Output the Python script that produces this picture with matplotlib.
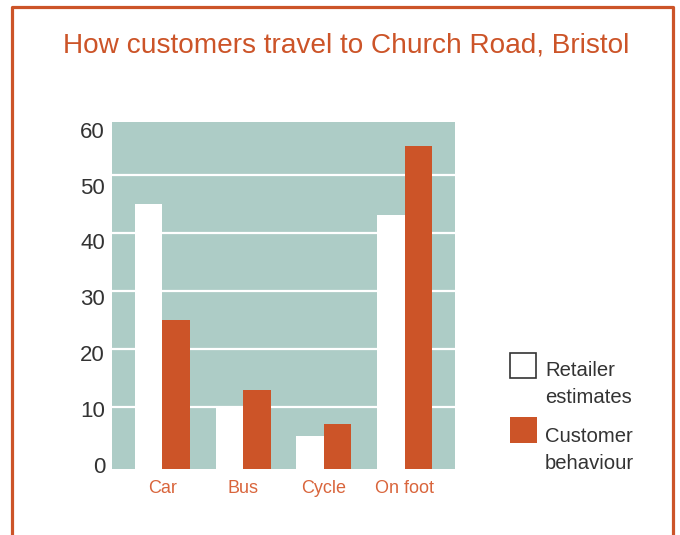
import numpy as np
import matplotlib
matplotlib.use("Agg")
import matplotlib.pyplot as plt
from matplotlib.patches import Rectangle
from matplotlib.lines import Line2D

plt.rcParams['font.family'] = ['Liberation Sans', 'DejaVu Sans']

# data
modes = ["Car", "Bus", "Cycle", "On foot"]
retailer = [45, 10, 5, 43]
customer = [25, 13, 7, 55]
y_ticks = [0, 10, 20, 30, 40, 50, 60]

ORANGE = "#cc5428"
LABEL_ORANGE = "#d9653c"
TEAL = "#adccc6"
GREY = "#333333"

W, H = 680, 535
fig = plt.figure(figsize=(W / 100, H / 100), dpi=100)

def fx(px):
    return px / W

def fy(py):
    return 1 - py / H

# frame round the chart, open at the bottom
fig.add_artist(Line2D([fx(12), fx(12), fx(673), fx(673)],
                      [0, fy(7), fy(7), 0],
                      transform=fig.transFigure, color=ORANGE, lw=2.3))

fig.text(fx(346), fy(45), "How customers travel to Church Road, Bristol",
         ha="center", va="center", color=ORANGE, fontsize=20.2)

ax = fig.add_axes([fx(112), fy(469), fx(455 - 112), (469 - 122) / H])
ax.set_facecolor(TEAL)
for s in ax.spines.values():
    s.set_visible(False)

x = np.arange(len(modes))
w = 0.34
y0 = -0.69
ax.bar(x - w, np.array(retailer) - y0, w, bottom=y0, align="edge",
       color="white", zorder=3)
ax.bar(x, np.array(customer) - y0, w, bottom=y0, align="edge",
       color=ORANGE, zorder=3)

for v in y_ticks[1:-1]:
    ax.axhline(v, color="white", lw=1.6, zorder=1)

ax.set_xlim(-0.62, 3.62)
ax.set_ylim(y0, 59.1)

# the tick labels in the original sit a little closer together than the grid
ax.set_yticks([v * 0.963 for v in y_ticks])
ax.set_yticklabels([str(v) for v in y_ticks], fontsize=16, color=GREY)
ax.set_xticks(x)
ax.set_xticklabels(modes, fontsize=13, color=LABEL_ORANGE)
ax.tick_params(axis="both", length=0)
ax.tick_params(axis="y", pad=5)
ax.tick_params(axis="x", pad=8)

# legend drawn by hand
fig.add_artist(Rectangle((fx(510), fy(378)), fx(26), 25 / H,
                         transform=fig.transFigure, facecolor="white",
                         edgecolor=GREY, lw=1.2))
fig.add_artist(Rectangle((fx(510), fy(443)), fx(27), 26 / H,
                         transform=fig.transFigure, facecolor=ORANGE,
                         edgecolor="none"))
fig.text(fx(545), fy(384), "Retailer\nestimates", ha="left", va="center",
         fontsize=14.6, color=GREY, linespacing=1.5)
fig.text(fx(545), fy(450), "Customer\nbehaviour", ha="left", va="center",
         fontsize=14.6, color=GREY, linespacing=1.5)

fig.savefig("out.png", dpi=100)
